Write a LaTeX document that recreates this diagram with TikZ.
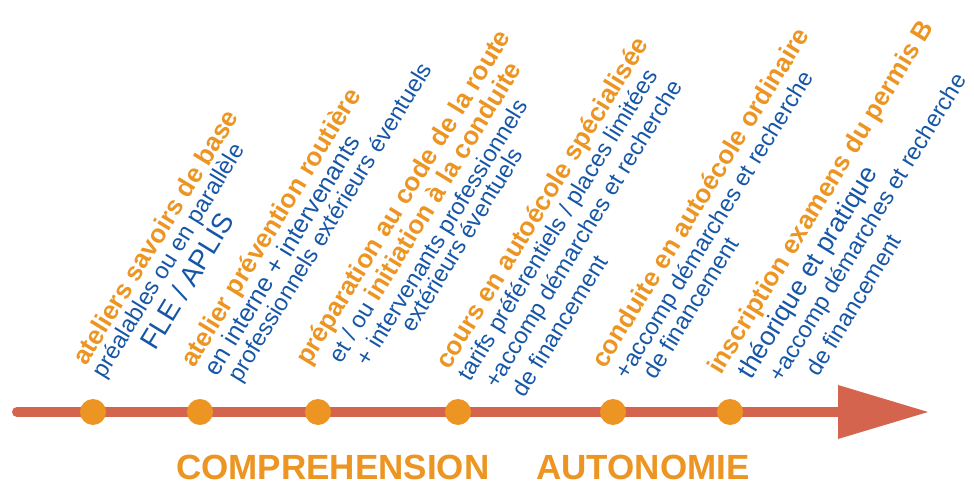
\documentclass[tikz,border=0pt]{standalone}
\usepackage{fontspec}
\setmainfont{Liberation Sans}
\definecolor{stepOrange}{RGB}{236,149,34}
\definecolor{textBlue}{RGB}{22,86,166}
\definecolor{lineRed}{RGB}{212,100,78}

\begin{document}
\begin{tikzpicture}[x=1pt,y=1pt,
    ttl/.style={anchor=base west,inner sep=0pt,text=stepOrange,font=\bfseries\fontsize{26}{26}\selectfont},
    txt/.style={anchor=base west,inner sep=0pt,text=textBlue,font=\fontsize{23.5}{23.5}\selectfont},
    big/.style={font=\fontsize{#1}{#1}\selectfont},
    blk/.style={rotate=58.5,transform shape},
    phase/.style={anchor=base west,inner sep=0pt,text=stepOrange,font=\bfseries\fontsize{35}{35}\selectfont}]
  \useasboundingbox (0,0) rectangle (974,485);

  % time line
  \coordinate (start) at (17,73);
  \coordinate (head) at (838,73);
  \draw[lineRed,line width=10pt,line cap=round] (start) -- (head);
  \fill[lineRed] (head) ++(0,27) -- ++(90,-27) -- ++(-90,-27) -- cycle;
  \foreach \x [count=\i] in {93,200,318,458,613,730}
    \node[circle,fill=stepOrange,inner sep=0pt,minimum size=26pt] (m\i) at (\x,73) {};

  % steps
  \begin{scope}[shift={(86,118)},blk]
    \node[ttl] (t1) at (0,0) {ateliers savoirs de base};
    \node[txt] (s1a) at (-1,-22) {préalables ou en parallèle};
    \node[txt,big=28] (s1b) at (49,-51) {FLE / APLIS};
  \end{scope}
  \begin{scope}[shift={(194,116)},blk]
    \node[ttl] (t2) at (0,0) {atelier prévention routière};
    \node[txt,big=25] (s2a) at (5,-24) {en interne + intervenants};
    \node[txt] (s2b) at (12,-47) {professionnels extérieurs éventuels};
  \end{scope}
  \begin{scope}[shift={(309,118)},blk]
    \node[ttl] (t3) at (0,0) {préparation au code de la route};
    \node[txt] (s3a) at (19,-26) {et / ou {\color{stepOrange}\bfseries\fontsize{26}{26}\selectfont initiation à la conduite}};
    \node[txt] (s3b) at (31,-51) {+ intervenants professionnels};
    \node[txt] (s3c) at (83,-72) {extérieurs éventuels};
  \end{scope}
  \begin{scope}[shift={(449,114)},blk]
    \node[ttl] (t4) at (0,0) {cours en autoécole spécialisée};
    \node[txt] (s4a) at (1,-24) {tarifs préférentiels / places limitées};
    \node[txt] (s4b) at (9,-51) {+accomp démarches et recherche};
    \node[txt] (s4c) at (16,-79) {de financement};
  \end{scope}
  \begin{scope}[shift={(605,115)},blk]
    \node[ttl] (t5) at (0,0) {conduite en autoécole ordinaire};
    \node[txt] (s5a) at (3,-25) {+accomp démarches et recherche};
    \node[txt] (s5b) at (17,-49) {de financement};
  \end{scope}
  \begin{scope}[shift={(721,109)},blk]
    \node[ttl] (t6) at (0,0) {inscription examens du permis B};
    \node[txt,big=26.5] (s6a) at (12,-28) {théorique et pratique};
    \node[txt] (s6b) at (25,-55) {+accomp démarches et recherche};
    \node[txt] (s6c) at (49,-84) {de financement};
  \end{scope}

  % phases
  \node[phase] (comp) at (176,6) {COMPREHENSION};
  \node[phase] (auto) at (536,6) {AUTONOMIE};
\end{tikzpicture}
\end{document}
